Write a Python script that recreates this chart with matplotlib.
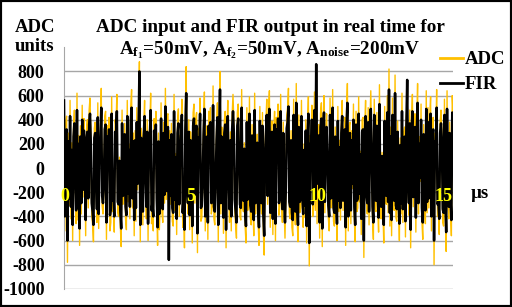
import matplotlib
matplotlib.use('Agg')
import matplotlib.pyplot as plt
import numpy as np

plt.rcParams['font.family'] = ['Liberation Serif', 'DejaVu Serif']
plt.rcParams['font.weight'] = 'bold'
plt.rcParams['mathtext.fontset'] = 'custom'
plt.rcParams['mathtext.rm'] = 'Liberation Serif:bold'
plt.rcParams['mathtext.it'] = 'Liberation Serif:bold'
plt.rcParams['mathtext.bf'] = 'Liberation Serif:bold'
plt.rcParams['mathtext.default'] = 'bf'

# time span of the record (us)
t_end = 15.4

# ADC samples
adc = [
    700, -520, 380, 430, -780, 290, -310, 560, -420, 210, -600, 350, 480, -150, -460, 620, -430, 270, -640, 350, -380, 520, -240, 410, 150, -560, 320, 400, -330, 480,
    580, 260, -390, -470, -610, 330, 380, -120, -450, 540, -500, 240, 300, 660, -310, -380, -200, 430, 470, -590, 350, 130, 420, -520, -450, 590, -360, -280, -530, 400,
    340, 610, -370, -400, 90, -480, -650, 480, -300, -260, 370, -420, -510, 560, -280, 200, -420, 510, 650, -330, 290, -560, 310, -440, 500, -180, 390, 880, -610, 330,
    260, -470, 350, 560, -90, -420, 400, -600, 280, 330, 620, -460, -380, -520, 410, 180, 470, -330, -640, 290, -510, -310, 540, -370, -450, 380, -290, 660, -260, 440,
    450, -600, 310, -300, 370, -440, -480, 610, -350, 120, -550, 380, 490, -400, 270, 280, 570, -490, -320, -660, 420, 840, -230, -380, 400, -510, 300, 160, -620, 460,
    530, -290, 410, 460, -700, 330, 220, 580, -440, -410, -190, 360, 630, -520, 240, 350, -590, 470, 100, 500, -380, -330, 680, -420, -470, -150, 310, 540, -610, 290,
    800, -380, 340, 250, -540, 390, 470, -660, 280, 560, -120, -450, 300, -520, 430, 610, 380, -340, -470, -580, 460, 530, 140, -400, -430, 650, -310, -360, 210, -480,
    -620, 500, -350, -240, 590, -410, -470, 360, -300, -560, 620, -380, -110, 280, -450, -640, 510, -290, -380, 460, -520, -720, 170, 390, 570, -300, 460, 640, -490, 330,
    390, -550, 300, 470, -600, 420, 130, 530, -390, -320, 610, -280, -450, 380, -330, -580, -210, 440, 500, 660, -370, -420, 310, -490, -560, 570, -300, -470, 700, -410,
    -610, 440, -370, -330, 560, -300, -490, 200, -410, 400, -620, 350, 590, -810, 270, 120, 520, -400, -310, 630, -350, 720, -460, 320, 360, -580, 450, 540, -650, 380,
    600, -370, 320, 450, 90, -410, -520, 580, -330, -300, 650, -440, -480, 340, -290, -600, 510, -360, 230, -430, 380, 560, -350, 290, 420, -640, 470, 700, -520, 350,
    380, -460, 310, -170, 530, -420, -610, 470, -360, -330, 590, -280, 140, -550, 400, 420, -740, 330, 560, -290, -380, 500, -470, 350, 640, 200, -430, -590, 570, -340,
    -360, 460, -310, -530, 690, -400, -420, 130, -350, -620, 510, -280, -300, 600, -370, 820, -480, 340, -560, 580, -330, -350, 770, -410, -440, 390, -290, -600, 250, -380,
    620, -450, 300, 340, -570, 420, 560, -160, -390, 480, -660, 350, 610, -320, 280, 450, -530, 370, 700, -380, 260, -110, 530, -440, -590, 360, -310, -460, 640, -370,
    500, -330, 410, 590, -520, 330, 420, -800, 290, 220, 650, -400, -370, -550, 380, 480, 310, -450, -480, 570, -360, -690, 640, -300, -420, 380, -340, -560, 600, 450,
]

# FIR output samples
fir = [
    560, -400, 290, 320, -600, 220, -250, 430, -320, 150, -470, 260, 370, -100, -350, 480, -330, 200, -500, 260, -290, 400, -180, 310, 100, -430, 240, 300, -250, 360,
    450, 190, -290, -360, -470, 250, 290, -80, -340, 420, -380, 180, 230, 500, -230, -290, -150, 320, 360, -450, 260, 90, 320, -390, -340, 450, -270, -210, -400, 300,
    260, 470, -280, -300, 60, -360, -500, 370, -230, -190, 280, -320, -390, 430, -210, 150, -320, 380, 500, -250, 220, -430, 230, -330, 380, -130, 290, 800, -470, 250,
    190, -360, 260, 430, -60, -320, 300, -460, 210, 250, 480, -350, -290, -400, 310, 130, 360, -250, -490, 220, -380, -230, 410, -280, -340, 290, -220, 510, -190, 330,
    340, -760, 230, -230, 280, -330, -370, 470, -260, 90, -420, 290, 370, -300, 200, 210, 440, -370, -240, -510, 320, 620, -170, -290, 300, -390, 230, 120, -480, 350,
    410, -220, 310, 350, -540, 250, 160, 450, -330, -310, -140, 270, 490, -400, 180, 260, -450, 350, 70, 380, -290, -250, 520, -320, -360, -110, 230, 420, -470, 220,
    650, -290, 260, 190, -410, 290, 360, -510, 210, 430, -90, -340, 230, -400, 320, 470, 290, -260, -360, -450, 350, 410, 100, -300, -330, 500, -230, -270, 160, -360,
    -480, 380, -260, -180, 450, -310, -360, 270, -230, -430, 480, -290, -80, 210, -340, -490, 390, -220, -290, 350, -390, -560, 130, 290, 440, -230, 350, 490, -370, 250,
    300, -420, 230, 360, -460, 320, 100, 410, -290, -240, 470, -210, -340, 290, -250, -450, -160, 330, 380, 510, -280, -320, 230, -370, -430, 440, -230, -360, 540, -310,
    -470, 340, -280, -250, 430, -230, -380, 150, -310, 310, -480, 260, 450, -620, 200, 90, 400, -300, -230, 480, -260, 860, -130, 240, 270, -450, 340, 410, -500, 290,
    460, -280, 240, 340, 70, -310, -400, 440, -250, -230, 500, -330, -370, 260, -220, -460, 390, -270, 170, -330, 290, 430, -270, 220, 320, -490, 350, 540, -400, 260,
    290, -350, 230, -130, 400, -320, -470, 360, -270, -250, 450, -210, 110, -420, 300, 320, -600, 250, 430, -220, -290, 380, -360, 260, 490, 150, -320, -450, 440, -260,
    -270, 350, -230, -410, 530, -300, -320, 100, -260, -470, 390, -210, -230, 460, -280, 650, -370, 260, -430, 440, -250, -270, 620, -310, -340, 300, -220, -460, 190, -290,
    470, -340, 230, 260, -440, 320, 730, -120, -290, 370, -510, 260, 470, -240, 210, 340, -410, 280, 540, -290, 200, -80, 400, -330, -450, 280, -230, -350, 490, -280,
    380, -250, 310, 450, -400, 250, 320, -600, 220, 170, 500, -300, -280, -420, 290, 370, 240, -340, -370, 440, -270, -530, 490, -230, -320, 290, -260, -430, 460, 340,
]

x_ticks = [0, 5, 10, 15]
y_ticks = [-1000, -800, -600, -400, -200, 0, 200, 400, 600, 800]

t = np.linspace(0, t_end, len(adc))

fig = plt.figure(figsize=(5.12, 3.07), dpi=100)
ax = fig.add_axes([0.125, 0.059, 0.76, 0.787])

ax.plot(t, adc, color='#FFC000', lw=1.0, label='ADC', zorder=2)
ax.plot(t, fir, color='black', lw=1.8, label='FIR', zorder=3)

ax.set_xlim(0, t_end)
ax.set_ylim(-1000, 1000)
ax.set_yticks(y_ticks)
ax.set_yticklabels([str(v) for v in y_ticks], fontsize=13, fontweight='bold')
ax.yaxis.grid(True, color='#A6A6A6', lw=1.0)
ax.set_axisbelow(True)
ax.tick_params(axis='y', length=0, pad=14)
ax.set_xticks([])
for s in ['top', 'right', 'bottom']:
    ax.spines[s].set_visible(False)
ax.spines['left'].set_color('#A6A6A6')

# time labels sit on the zero line, inside the plot
for v in x_ticks:
    ax.annotate(str(v), xy=(v, 0), xytext=(0.5, -14), textcoords='offset points',
                ha='center', va='top', color='#FFFF00', fontsize=13,
                fontweight='bold', zorder=5)

fig.text(480 / 512, 1 - 194 / 307, 'µs', ha='center', va='center', fontsize=13.5, fontweight='bold')
fig.text(35 / 512, 1 - 37 / 307, 'ADC\nunits', ha='center', va='center', fontsize=13.5,
         fontweight='bold', linespacing=1.1)
fig.text(270 / 512, 1 - 40 / 307,
         'ADC input and FIR output in real time for\n'
         r'$A_{f_1}$=50mV, $A_{f_2}$=50mV, $A_{noise}$=200mV',
         ha='center', va='center', fontsize=13.8, fontweight='bold', linespacing=1.25)

leg = fig.legend(loc='upper left', bbox_to_anchor=(440 / 512, 1 - 51 / 307), frameon=False,
                 fontsize=13.5, handlelength=1.25, handletextpad=0.05, labelspacing=0.42,
                 borderpad=0, borderaxespad=0)
for h in leg.legend_handles:
    h.set_linewidth(2)

fig.patches.append(plt.Rectangle((0, 0), 1, 1, transform=fig.transFigure, fill=False,
                                 edgecolor='black', lw=3))

fig.savefig('out.png', dpi=100)
